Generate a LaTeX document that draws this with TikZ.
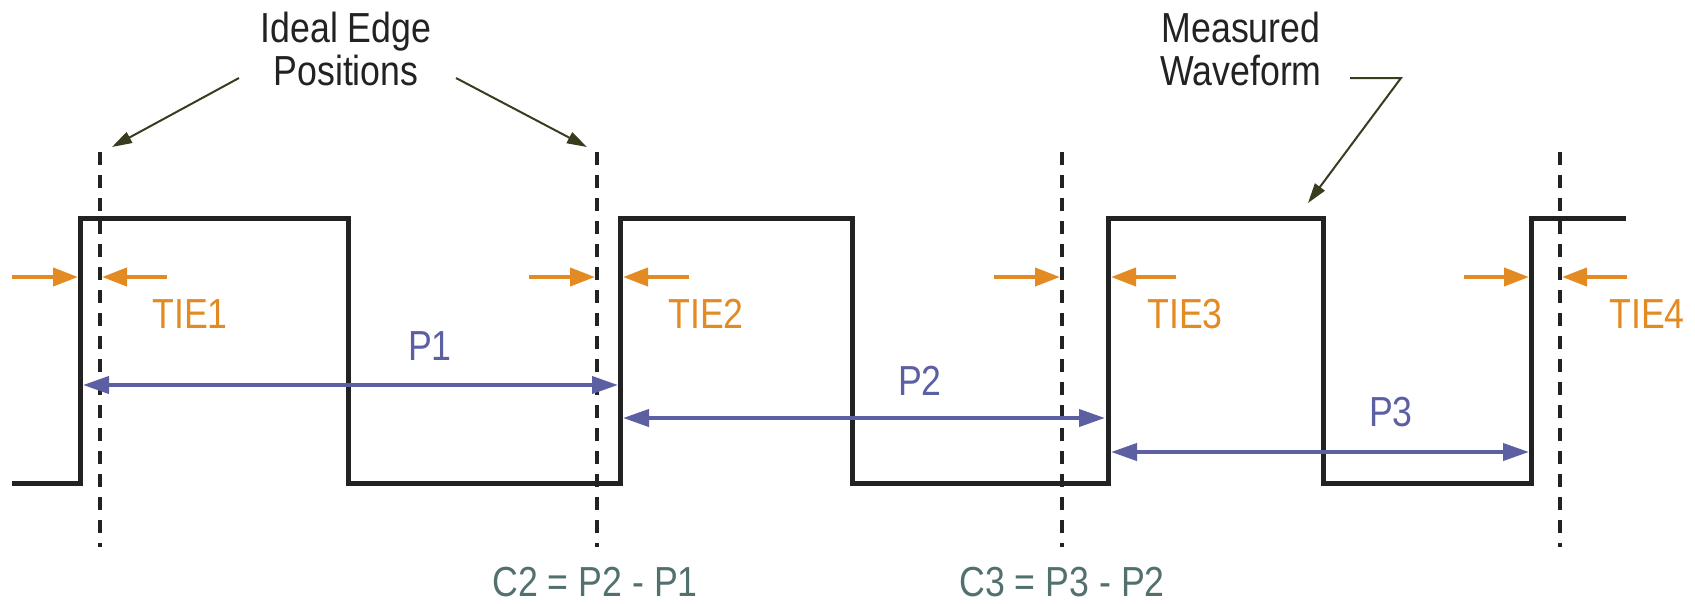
\documentclass[tikz,border=0pt]{standalone}
\usepackage{fontspec}
\setmainfont{Liberation Sans}[FakeStretch=0.85]
\usetikzlibrary{arrows.meta}
\definecolor{Ink}{HTML}{222222}
\definecolor{Orange}{HTML}{E38B22}
\definecolor{Violet}{HTML}{5D5FA3}
\definecolor{Slate}{HTML}{52706E}
\definecolor{Olive}{HTML}{3B3B20}

\begin{document}
\begin{tikzpicture}[x=1pt,y=-1pt,
  lbl/.style={font=\fontsize{42}{43}\selectfont,inner sep=0pt,align=center},
  wave/.style={line width=5pt,Ink},
  ideal/.style={line width=4pt,Ink,dash pattern=on 13pt off 10pt},
  tie/.style={-{Triangle[length=25pt,width=18pt]},line width=4pt,Orange},
  period/.style={{Triangle[length=26pt,width=17pt]}-{Triangle[length=26pt,width=17pt]},line width=4pt,Violet},
  leader/.style={-{Triangle[length=20pt,width=12pt]},line width=2pt,Olive}]
  \useasboundingbox (0,0) rectangle (1695,603);

  % labels
  \node[lbl,text=Ink] (idealLbl) at (346,49) {Ideal Edge\\Positions};
  \node[lbl,text=Ink] (measLbl) at (1241,49) {Measured\\Waveform};
  \node[lbl,text=Orange] (tie1) at (190,314) {TIE1};
  \node[lbl,text=Orange] (tie2) at (706,314) {TIE2};
  \node[lbl,text=Orange] (tie3) at (1185,314) {TIE3};
  \node[lbl,text=Orange] (tie4) at (1647,314) {TIE4};
  \node[lbl,text=Violet] (p1) at (430,346) {P1};
  \node[lbl,text=Violet] (p2) at (920,381) {P2};
  \node[lbl,text=Violet] (p3) at (1391,412) {P3};
  \node[lbl,text=Slate] (c2) at (595,582) {C2 = P2 - P1};
  \node[lbl,text=Slate] (c3) at (1062,582) {C3 = P3 - P2};

  % ideal edges
  \draw[ideal] (100,152) -- (100,547);
  \draw[ideal] (597,152) -- (597,547);
  \draw[ideal] (1062,152) -- (1062,547);
  \draw[ideal] (1560,152) -- (1560,547);

  % measured waveform
  \draw[wave] (12,483) -| (80,218) -| (348,483) -| (620,218) -| (852,483)
    -| (1108,218) -| (1323,483) -| (1531,218) -- (1626,218);

  % TIE markers
  \coordinate (a1) at (12,277);   \coordinate (e1) at (78,277);
  \coordinate (b1) at (167,277);  \coordinate (d1) at (102,277);
  \coordinate (a2) at (529,277);  \coordinate (d2) at (595,277);
  \coordinate (b2) at (689,277);  \coordinate (e2) at (623,277);
  \coordinate (a3) at (994,277);  \coordinate (d3) at (1060,277);
  \coordinate (b3) at (1176,277); \coordinate (e3) at (1111,277);
  \coordinate (a4) at (1464,277); \coordinate (e4) at (1529,277);
  \coordinate (b4) at (1627,277); \coordinate (d4) at (1562,277);
  \draw[tie] (a1) -- (e1);  \draw[tie] (b1) -- (d1);
  \draw[tie] (a2) -- (d2);  \draw[tie] (b2) -- (e2);
  \draw[tie] (a3) -- (d3);  \draw[tie] (b3) -- (e3);
  \draw[tie] (a4) -- (e4);  \draw[tie] (b4) -- (d4);

  % periods
  \coordinate (p1l) at (83,385);   \coordinate (p1r) at (618,385);
  \coordinate (p2l) at (623,418);  \coordinate (p2r) at (1105,418);
  \coordinate (p3l) at (1111,452); \coordinate (p3r) at (1529,452);
  \draw[period] (p1l) -- (p1r);
  \draw[period] (p2l) -- (p2r);
  \draw[period] (p3l) -- (p3r);

  % callouts
  \coordinate (i1) at (239,78);  \coordinate (i1t) at (112,147);
  \coordinate (i2) at (456,78);  \coordinate (i2t) at (587,147);
  \coordinate (m1) at (1350,78); \coordinate (m2) at (1401,78);
  \coordinate (mt) at (1308,203);
  \draw[leader] (i1) -- (i1t);
  \draw[leader] (i2) -- (i2t);
  \draw[leader] (m1) -- (m2) -- (mt);
\end{tikzpicture}
\end{document}
